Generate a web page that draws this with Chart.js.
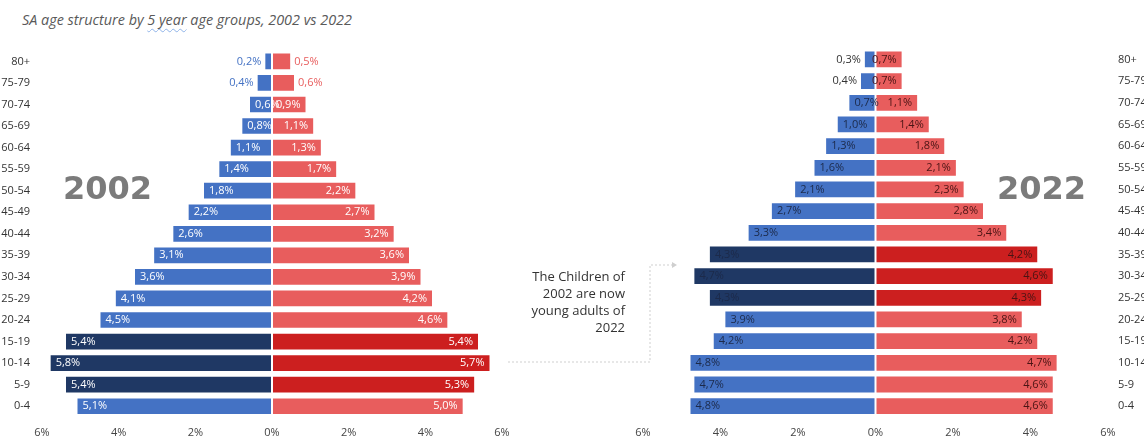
<!DOCTYPE html>
<html>
<head>
<meta charset="utf-8">
<script src="https://cdn.jsdelivr.net/npm/chart.js@4/dist/chart.umd.min.js"></script>
<style>
  html, body { margin: 0; padding: 0; background: #fff; width: 1144px; height: 438px; overflow: hidden; }
  body { position: relative; font-family: "Open Sans", sans-serif; }
  #title { position: absolute; left: 22px; top: 10px; font-size: 14.4px; font-style: italic; color: #595959; white-space: nowrap; }
  #title .sq { text-decoration: underline wavy #8fb3e8; text-decoration-thickness: 1px; text-underline-offset: 3px; }
  .year { position: absolute; font-family: "DejaVu Sans", sans-serif; font-size: 32px; font-weight: 700; color: #7b7b7b; line-height: 36px; }
  #note { position: absolute; right: 519px; top: 268px; text-align: right; font-size: 13px; line-height: 17px; color: #333; white-space: nowrap; }
  canvas { position: absolute; }
  #conn { position: absolute; left: 0; top: 0; }
</style>
</head>
<body>
<div id="title">SA age structure by <span class="sq">5 year</span> age groups, 2002 vs 2022</div>
<canvas id="c2002" width="520" height="406" style="left:0px;top:32px;"></canvas>
<canvas id="c2022" width="540" height="406" style="left:620px;top:32px;"></canvas>
<div class="year" style="left:63px;top:170px;">2002</div>
<div class="year" style="left:997px;top:170px;">2022</div>
<div id="note">The Children of<br>2002 are now<br>young adults of<br>2022</div>
<svg id="conn" width="1144" height="438">
  <polyline points="508,362 650,362 650,265 672,265" fill="none" stroke="#cfcfcf" stroke-width="1" stroke-dasharray="2,2"/>
  <polygon points="672,262 677,265 672,268" fill="#cfcfcf"/>
</svg>
<script>
// ---- data ----
const ageGroups = ['80+','75-79','70-74','65-69','60-64','55-59','50-54','45-49','40-44','35-39','30-34','25-29','20-24','15-19','10-14','5-9','0-4'];
const male2002   = [0.2,0.4,0.6,0.8,1.1,1.4,1.8,2.2,2.6,3.1,3.6,4.1,4.5,5.4,5.8,5.4,5.1];
const female2002 = [0.5,0.6,0.9,1.1,1.3,1.7,2.2,2.7,3.2,3.6,3.9,4.2,4.6,5.4,5.7,5.3,5.0];
const male2022   = [0.3,0.4,0.7,1.0,1.3,1.6,2.1,2.7,3.3,4.3,4.7,4.3,3.9,4.2,4.8,4.7,4.8];
const female2022 = [0.7,0.7,1.1,1.4,1.8,2.1,2.3,2.8,3.4,4.2,4.6,4.3,3.8,4.2,4.7,4.6,4.6];
const highlight2002 = ['15-19','10-14','5-9'];
const highlight2022 = ['35-39','30-34','25-29'];
const xTicks = [-6,-4,-2,0,2,4,6];

const COL = { blue:'#4472C4', navy:'#1F3864', red:'#E85D5D', darkRed:'#CC1F1F' };

function fmt(v){ return Math.abs(v).toFixed(1).replace('.', ',') + '%'; }

const labelPlugin = {
  id: 'barLabels',
  afterDatasetsDraw(chart, args, opts) {
    const ctx = chart.ctx;
    ctx.save();
    ctx.font = '11px "Open Sans", sans-serif';
    ctx.textBaseline = 'middle';
    chart.data.datasets.forEach((ds, di) => {
      const meta = chart.getDatasetMeta(di);
      meta.data.forEach((bar, j) => {
        const p = bar.getProps(['x','y','base'], true);
        const v = ds.data[j];
        const txt = fmt(v);
        const w = Math.abs(p.x - p.base);
        const left = v < 0;
        const inside = w >= opts.minInside[di];
        ctx.fillStyle = inside ? opts.insideColor[di] : opts.outsideColor[di];
        if (left) {
          if (inside) { ctx.textAlign = 'left'; ctx.fillText(txt, p.x + 6, p.y); }
          else { ctx.textAlign = 'right'; ctx.fillText(txt, p.x - 3, p.y); }
        } else {
          if (inside) { ctx.textAlign = 'right'; ctx.fillText(txt, p.x - 6, p.y); }
          else { ctx.textAlign = 'left'; ctx.fillText(txt, p.x + 3, p.y); }
        }
      });
    });
    ctx.restore();
  }
};

function colors(base, hi, highlights) {
  return ageGroups.map(g => highlights.includes(g) ? hi : base);
}

function makeChart(id, male, female, highlights, side, labelOpts, padding) {
  return new Chart(document.getElementById(id), {
    type: 'bar',
    data: {
      labels: ageGroups,
      datasets: [
        { label: 'Male', data: male.map(v => -v), backgroundColor: colors(COL.blue, COL.navy, highlights),
          borderColor: '#ffffff', borderWidth: 1, borderSkipped: false, barPercentage: 0.82, categoryPercentage: 1 },
        { label: 'Female', data: female, backgroundColor: colors(COL.red, COL.darkRed, highlights),
          borderColor: '#ffffff', borderWidth: 1, borderSkipped: false, barPercentage: 0.82, categoryPercentage: 1 }
      ]
    },
    options: {
      indexAxis: 'y',
      responsive: false,
      animation: false,
      devicePixelRatio: 1,
      layout: { padding: padding },
      plugins: { legend: { display: false }, tooltip: { enabled: false }, barLabels: labelOpts },
      scales: {
        x: {
          stacked: true, min: -6, max: 6,
          afterBuildTicks: s => { s.ticks = xTicks.map(v => ({ value: v })); },
          ticks: { callback: v => Math.abs(v) + '%', color: '#444', font: { family: '"Open Sans", sans-serif', size: 11 }, padding: 9, maxRotation: 0 },
          grid: { display: false, drawTicks: false }, border: { display: false },
          afterFit: s => { s.height = 21; }
        },
        y: {
          stacked: true, position: side,
          ticks: { color: '#333', font: { family: '"Open Sans", sans-serif', size: 11 }, padding: side === 'left' ? 12 : 10, autoSkip: false },
          grid: { display: false, drawTicks: false }, border: { display: false },
          afterFit: s => { s.width = side === 'left' ? 42 : 52; }
        }
      }
    },
    plugins: [labelPlugin]
  });
}

makeChart('c2002', male2002, female2002, highlight2002, 'left',
  { minInside: [21, 25], insideColor: ['#ffffff','#ffffff'], outsideColor: [COL.blue, COL.red] },
  { top: 0, right: 18, left: 0, bottom: 0 });

makeChart('c2022', male2022, female2022, highlight2022, 'right',
  { minInside: [16, 16], insideColor: ['#1c2a4a','#4a1414'], outsideColor: ['#333333','#333333'] },
  { top: 0, right: 0, left: 23, bottom: 0 });
</script>
</body>
</html>
